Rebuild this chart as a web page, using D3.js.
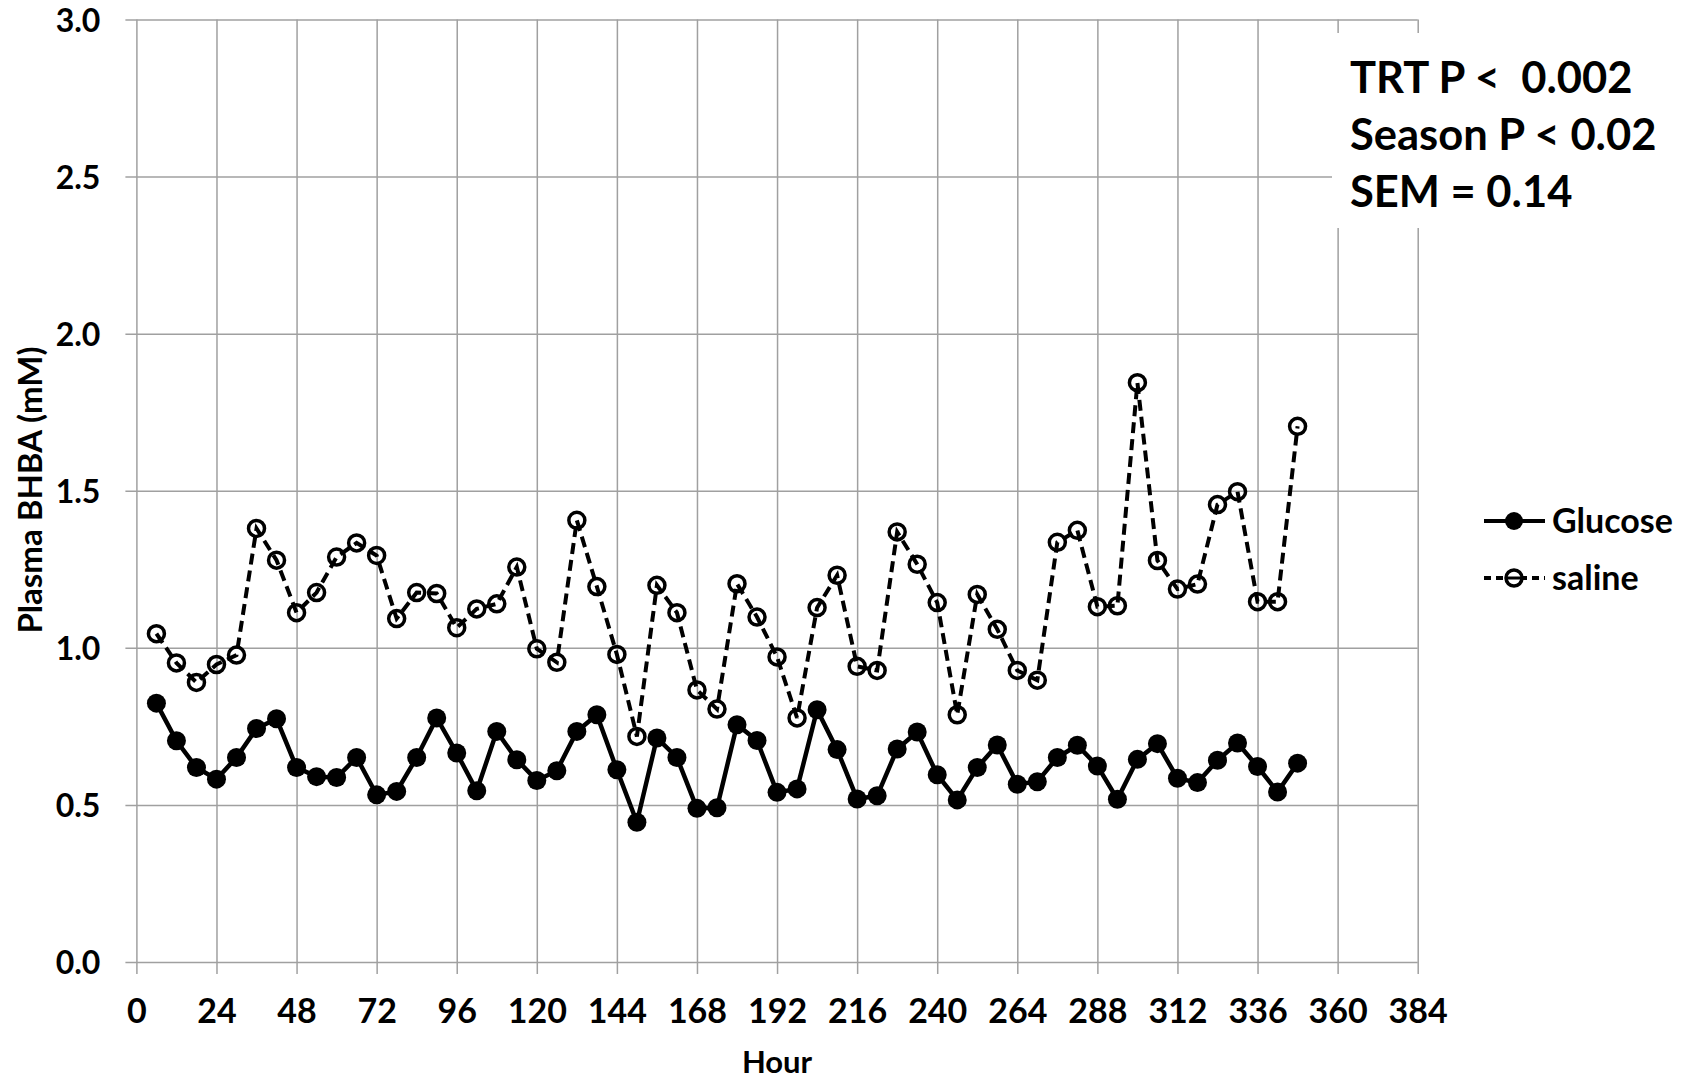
<!DOCTYPE html>
<html>
<head>
<meta charset="utf-8">
<script src="https://cdn.jsdelivr.net/npm/d3@7"></script>
<style>
  html, body { margin: 0; padding: 0; background: #fff; }
  svg { display: block; font-family: Lato, "Open Sans", sans-serif; font-weight: bold; }
</style>
</head>
<body>
<svg id="chart" width="1690" height="1080"></svg>
<script>
const hours = [6,12,18,24,30,36,42,48,54,60,66,72,78,84,90,96,102,108,114,120,126,132,138,144,150,156,162,168,174,180,186,192,198,204,210,216,222,228,234,240,246,252,258,264,270,276,282,288,294,300,306,312,318,324,330,336,342,348];
const glucose = [0.824,0.704,0.619,0.582,0.651,0.743,0.774,0.619,0.590,0.587,0.651,0.532,0.543,0.651,0.777,0.665,0.545,0.734,0.644,0.578,0.609,0.734,0.787,0.612,0.445,0.713,0.651,0.489,0.491,0.755,0.705,0.540,0.551,0.803,0.676,0.519,0.529,0.678,0.732,0.596,0.516,0.619,0.691,0.566,0.574,0.651,0.690,0.624,0.518,0.645,0.695,0.585,0.571,0.642,0.697,0.622,0.541,0.633];
const saline = [1.045,0.952,0.890,0.947,0.977,1.380,1.279,1.112,1.176,1.289,1.334,1.294,1.093,1.176,1.173,1.064,1.124,1.140,1.257,0.997,0.954,1.406,1.195,0.979,0.718,1.199,1.112,0.866,0.805,1.204,1.098,0.971,0.777,1.128,1.231,0.941,0.928,1.369,1.266,1.144,0.787,1.170,1.059,0.928,0.897,1.336,1.374,1.131,1.134,1.844,1.278,1.187,1.203,1.456,1.497,1.147,1.147,1.705];
const xTicks = [0,24,48,72,96,120,144,168,192,216,240,264,288,312,336,360,384];
const yTicks = [0,0.5,1.0,1.5,2.0,2.5,3.0];
const seriesNames = ["Glucose","saline"];
const statLines = ["TRT P <  0.002","Season P < 0.02","SEM = 0.14"];

const svg = d3.select("#chart");
const x = d3.scaleLinear().domain([0,384]).range([136.4,1417.7]);
const y = d3.scaleLinear().domain([0,3]).range([962,19.5]);
const gridColor = "#a0a0a0";

// vertical gridlines + ticks below axis
const xAxis = svg.append("g").attr("transform", `translate(0,${y(0)})`)
  .call(d3.axisBottom(x).tickValues(xTicks).tickSize(12).tickSizeOuter(0).tickFormat(d3.format("d")).tickPadding(25));
xAxis.select(".domain").remove();
xAxis.selectAll(".tick line").attr("stroke", gridColor).attr("stroke-width",1.5)
  .attr("y1", -(y(0)-y(3)));
xAxis.selectAll(".tick text").attr("fill","#000").attr("font-size",34).attr("font-family","Lato").attr("font-weight","bold")
  .attr("dy","0.72em");

// horizontal gridlines
const yAxis = svg.append("g").attr("transform", `translate(${x(0)},0)`)
  .call(d3.axisLeft(y).tickValues(yTicks).tickSize(11).tickSizeOuter(0).tickFormat(d3.format(".1f")).tickPadding(25));
yAxis.select(".domain").remove();
yAxis.selectAll(".tick line").attr("stroke", gridColor).attr("stroke-width",1.5)
  .attr("x2", x(384)-x(0)).attr("x1",-11);
yAxis.selectAll(".tick text").attr("fill","#000").attr("font-size",32).attr("font-family","Lato").attr("font-weight","bold")
  .attr("dy","0.37em");

// stats box
svg.append("rect").attr("x",1332).attr("y",33).attr("width",358).attr("height",195).attr("fill","#fff");
svg.append("g").selectAll("text").data(statLines).join("text")
  .attr("x",1350).attr("y",(d,i)=>93+i*57).attr("font-size",43.5).attr("fill","#000")
  .attr("xml:space","preserve").style("white-space","pre").text(d=>d);

// lines
const salineData = hours.map((h,i)=>({h, v: saline[i]}));
const glucoseData = hours.map((h,i)=>({h, v: glucose[i]}));
const line = d3.line().x(d=>x(d.h)).y(d=>y(d.v));

svg.append("path").datum(salineData).attr("d", line).attr("fill","none")
  .attr("stroke","#000").attr("stroke-width",4).attr("stroke-dasharray","11,6");
svg.append("g").selectAll("circle").data(salineData).join("circle")
  .attr("cx",d=>x(d.h)).attr("cy",d=>y(d.v)).attr("r",8)
  .attr("fill","none").attr("stroke","#000").attr("stroke-width",3.5);

svg.append("path").datum(glucoseData).attr("d", line).attr("fill","none")
  .attr("stroke","#000").attr("stroke-width",4.5);
svg.append("g").selectAll("circle").data(glucoseData).join("circle")
  .attr("cx",d=>x(d.h)).attr("cy",d=>y(d.v)).attr("r",9.5).attr("fill","#000");

// legend
const lg = svg.append("g");
const legY = [521, 578];
lg.append("line").attr("x1",1484).attr("x2",1545).attr("y1",legY[0]).attr("y2",legY[0]).attr("stroke","#000").attr("stroke-width",4);
lg.append("circle").attr("cx",1514).attr("cy",legY[0]).attr("r",9).attr("fill","#000");
lg.append("line").attr("x1",1484).attr("x2",1545).attr("y1",legY[1]).attr("y2",legY[1]).attr("stroke","#000").attr("stroke-width",4).attr("stroke-dasharray","7,5");
lg.append("circle").attr("cx",1514).attr("cy",legY[1]).attr("r",8).attr("fill","#fff").attr("stroke","#000").attr("stroke-width",3.5);
lg.append("line").attr("x1",1507).attr("x2",1521).attr("y1",legY[1]).attr("y2",legY[1]).attr("stroke","#000").attr("stroke-width",3);
lg.selectAll("text").data(seriesNames).join("text")
  .attr("x",1552).attr("y",(d,i)=>legY[i]+12).attr("font-size",34).attr("fill","#000").text(d=>d);

// axis titles
svg.append("text").attr("x",(x(0)+x(384))/2).attr("y",1073).attr("text-anchor","middle")
  .attr("font-size",31).attr("fill","#000").text("Hour");
svg.append("text").attr("transform","translate(42,490) rotate(-90)").attr("text-anchor","middle")
  .attr("font-size",33).attr("fill","#000").text("Plasma BHBA (mM)");
</script>
</body>
</html>
